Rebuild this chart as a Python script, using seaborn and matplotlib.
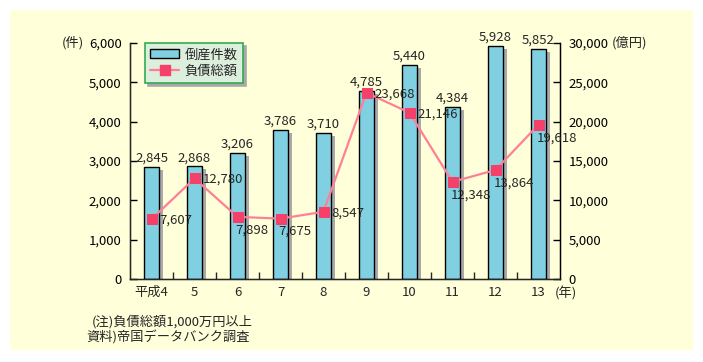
import numpy as np
import pandas as pd
import matplotlib
matplotlib.use("Agg")
import matplotlib.pyplot as plt
import matplotlib.patheffects as pe
from matplotlib.patches import Rectangle, Patch
from matplotlib.lines import Line2D
from matplotlib.ticker import FuncFormatter, FixedLocator
import seaborn as sns

# data
years = ["平成4", "5", "6", "7", "8", "9", "10", "11", "12", "13"]
counts = [2845, 2868, 3206, 3786, 3710, 4785, 5440, 4384, 5928, 5852]
debt = [7607, 12780, 7898, 7675, 8547, 23668, 21146, 12348, 13864, 19618]
# where each debt label sits: r = right of marker, b = below marker
debt_label_pos = ["r", "r", "b", "b", "r", "r", "r", "b", "b", "b"]

W, H = 703, 362
BG = "#FFFFDA"
BAR = "#80D0E2"
LINE = "#FF8096"
MARK = "#F5406A"
FS = 9.5

sns.set_style("ticks")
plt.rcParams["font.family"] = ["Noto Sans CJK JP", "DejaVu Sans"]
plt.rcParams["font.size"] = FS

fig = plt.figure(figsize=(W / 100, H / 100), dpi=100, facecolor="white")
fig.patches.append(Rectangle((10 / W, 12 / H), 683 / W, 340 / H,
                             transform=fig.transFigure, facecolor=BG,
                             edgecolor="none", zorder=-10))

ax = fig.add_axes([130 / W, 83 / H, 430 / W, 236 / H])
ax.patch.set_visible(False)

df = pd.DataFrame({"year": years, "count": counts, "debt": debt})

sns.barplot(data=df, x="year", y="count", ax=ax, color=BAR, saturation=1,
            width=0.37, edgecolor="black", linewidth=1)
for p in ax.patches:
    p.set_path_effects([pe.SimplePatchShadow(offset=(2.3, -2.3),
                                             shadow_rgbFace="#a9a9a9", alpha=1),
                        pe.Normal()])

ax.set_ylim(0, 6000)
ax.set_xlim(-0.5, len(years) - 0.5)
ax.set_xlabel("")
ax.set_ylabel("")
ax.set_yticks(np.arange(0, 6001, 1000))
ax.yaxis.set_major_formatter(FuncFormatter(lambda v, _: f"{int(v):,}"))
ax.tick_params(axis="y", direction="in", length=5, width=1, pad=6, colors="black")
ax.set_xticks(range(len(years)))
ax.set_xticklabels(years)
ax.tick_params(axis="x", which="major", length=0, pad=5)
ax.xaxis.set_minor_locator(FixedLocator(np.arange(0.5, len(years) - 1, 1)))
ax.tick_params(axis="x", which="minor", direction="in", length=5, width=1)
for s in ["left", "bottom", "right"]:
    ax.spines[s].set_color("black")
    ax.spines[s].set_linewidth(1)
ax.spines["top"].set_visible(False)

for i, v in enumerate(counts):
    ax.annotate(f"{v:,}", xy=(i, v), xytext=(0, 2), textcoords="offset pixels",
                ha="center", va="bottom", fontsize=FS)

ax2 = ax.twinx()
ax2.patch.set_visible(False)
sns.lineplot(data=df, x="year", y="debt", ax=ax2, sort=False, color=LINE,
             linewidth=1.6, marker="s", markersize=7.5, markerfacecolor=MARK,
             markeredgecolor=MARK)
ax2.set_ylim(0, 30000)
ax2.set_ylabel("")
ax2.set_yticks(np.arange(0, 30001, 5000))
ax2.yaxis.set_major_formatter(FuncFormatter(lambda v, _: f"{int(v):,}"))
ax2.tick_params(axis="y", direction="in", length=5, width=1, pad=6, colors="black")
ax2.spines["top"].set_visible(False)
ax2.spines["right"].set_color("black")

for i, (v, pos) in enumerate(zip(debt, debt_label_pos)):
    if pos == "r":
        ax2.annotate(f"{v:,}", xy=(i, v), xytext=(8, -1), textcoords="offset pixels",
                     ha="left", va="center", fontsize=FS)
    else:
        ax2.annotate(f"{v:,}", xy=(i, v), xytext=(-2, -13), textcoords="offset pixels",
                     ha="left", va="center", fontsize=FS)

# axis unit labels
ax.annotate("(件)", xy=(0, 6000), xycoords=("axes fraction", "data"),
            xytext=(-46, 0), textcoords="offset pixels", ha="right", va="center")
ax2.annotate("(億円)", xy=(1, 30000), xycoords=("axes fraction", "data"),
             xytext=(52, 0), textcoords="offset pixels", ha="left", va="center")
ax.annotate("(年)", xy=(1, 0), xycoords="axes fraction",
            xytext=(-5, -14), textcoords="offset pixels", ha="left", va="center")

handles = [Patch(facecolor=BAR, edgecolor="black", linewidth=1),
           Line2D([], [], color=LINE, linewidth=1.6, marker="s", markersize=7.5,
                  markerfacecolor=MARK, markeredgecolor=MARK)]
leg = ax2.legend(handles, ["倒産件数", "負債総額"], loc="upper left",
                 bbox_to_anchor=(15 / 430, 1.0), borderaxespad=0, fancybox=False,
                 framealpha=1, facecolor="#DCEEDC", edgecolor="#33AA55",
                 shadow={"color": "#a9a9a9", "alpha": 1}, fontsize=FS,
                 handlelength=2.2, handletextpad=0.4, borderpad=0.4,
                 labelspacing=0.25)
leg.get_frame().set_linewidth(1.2)

fig.text(92 / W, 1 - 322 / H, "(注)負債総額1,000万円以上", ha="left", va="center",
         fontsize=FS)
fig.text(86 / W, 1 - 337 / H, "資料)帝国データバンク調査", ha="left", va="center",
         fontsize=FS)

fig.savefig("out.png", dpi=100, facecolor="white")
